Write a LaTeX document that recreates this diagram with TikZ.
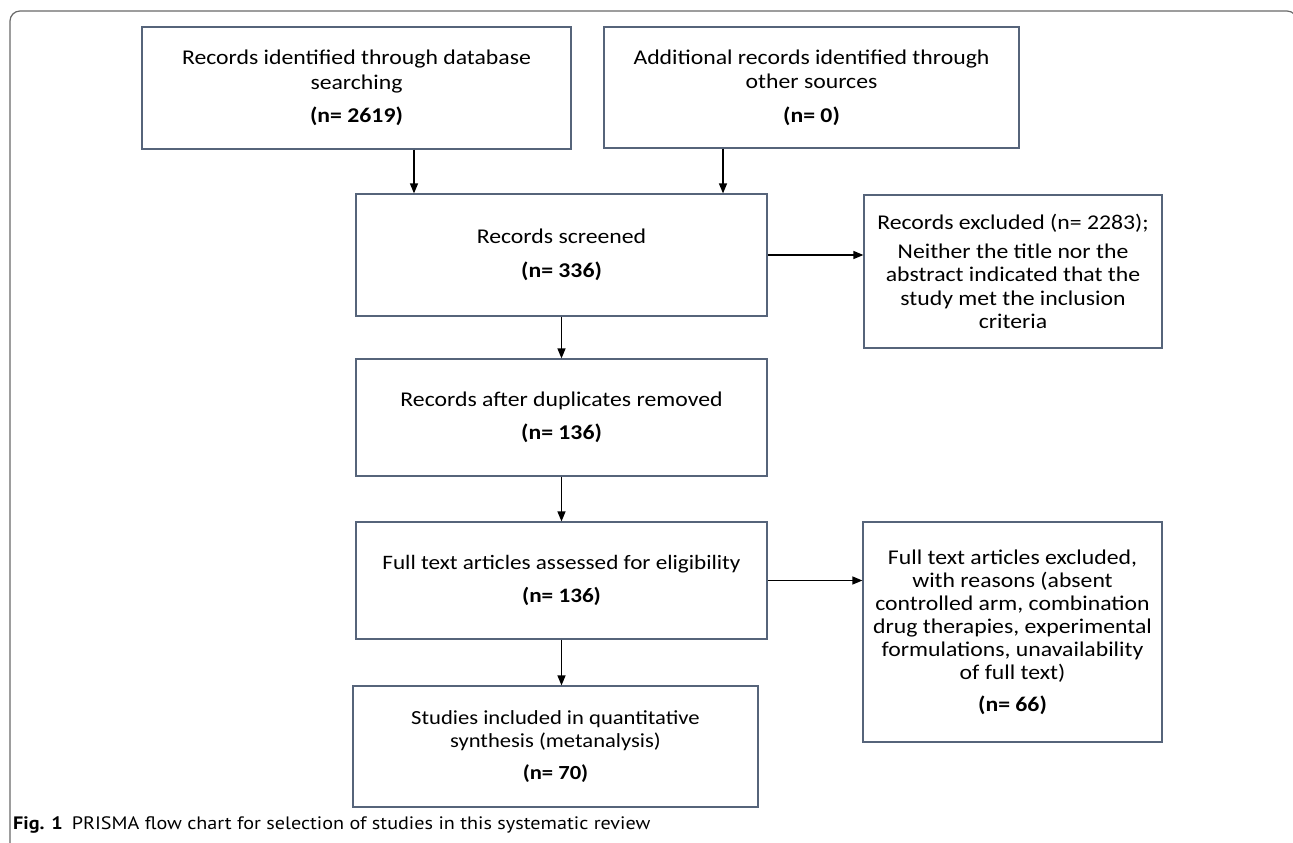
\documentclass[tikz,border=0pt]{standalone}
\usepackage{fontspec}
\setmainfont{Carlito}[FakeStretch=1.13]
\newfontfamily\capfont{PT Sans}[FakeStretch=1.12]
\usetikzlibrary{positioning}
\usetikzlibrary{arrows.meta}
\definecolor{boxline}{RGB}{86,100,122}
\definecolor{frameline}{RGB}{105,105,105}
\tikzset{
    mybox/.style = {rectangle, draw=boxline, line width=1.2pt, align=center, fill=white, font=\fontsize{21}{24.5}\selectfont, text=black, inner sep=4pt},
    myboxs/.style = {mybox, font=\fontsize{21}{23}\selectfont},
    edgea/.style = {-{Triangle[length=10pt,width=8pt]}, line width=1.3pt, black},
    framel/.style = {line width=1.2pt, frameline},
    captext/.style = {anchor=base west, inner sep=0pt, font=\capfont\fontsize{18}{20}\selectfont}
}

\begin{document}
\begin{tikzpicture}[x=1pt,y=-1pt]
  \useasboundingbox (0,0) rectangle (1293,843);
  \draw[framel, rounded corners=10pt] (10,850) |- (1297,11) -- (1297,850);

  % boxes
  \node[mybox, minimum width=429, minimum height=122] (rec) at (356.5,88)
    {Records identified through database\\searching\\[9pt]\textbf{(n= 2619)}};
  \node[mybox, minimum width=415, minimum height=121] (add) at (811.5,87.5)
    {Additional records identified through\\other sources\\[9pt]\textbf{(n= 0)}};
  \node[mybox, minimum width=411, minimum height=122] (scr) at (561.5,255)
    {Records screened\\[9pt]\textbf{(n= 336)}};
  \node[myboxs, minimum width=298, minimum height=153, font=\fontsize{21}{23.5}\selectfont] (exc1) at (1013,271.5)
    {Records excluded (n= 2283);\\[5pt]Neither the title nor the\\abstract indicated that the\\study met the inclusion\\criteria};
  \node[mybox, minimum width=411, minimum height=117] (dup) at (561.5,417.5)
    {Records after duplicates removed\\[9pt]\textbf{(n= 136)}};
  \node[mybox, minimum width=411, minimum height=117, font=\fontsize{20.5}{24}\selectfont] (full) at (561.5,580.5)
    {Full text articles assessed for eligibility\\[9pt]\textbf{(n= 136)}};
  \node[myboxs, minimum width=299, minimum height=220] (exc2) at (1012.5,632)
    {Full text articles excluded,\\with reasons (absent\\controlled arm, combination\\drug therapies, experimental\\formulations, unavailability\\of full text)\\[9pt]\textbf{(n= 66)}};
  \node[mybox, minimum width=405, minimum height=121, font=\fontsize{20}{23}\selectfont] (stu) at (555.5,746.5)
    {Studies included in quantitative\\synthesis (metanalysis)\\[9pt]\textbf{(n= 70)}};

  % arrows
  \coordinate (r1) at ([xshift=57.5pt]rec.south);
  \coordinate (a1) at ([xshift=-88.5pt]add.south);
  \draw[edgea] (r1) -- (r1 |- scr.north);
  \draw[edgea] (a1) -- (a1 |- scr.north);
  \draw[edgea] (scr.east) -- (scr.east -| exc1.west);
  \draw[edgea] (scr.south) -- (dup.north);
  \draw[edgea] (dup.south) -- (full.north);
  \draw[edgea] (full.east) -- (full.east -| exc2.west);
  \draw[edgea] (full.south) -- (full.south |- stu.north);

  \node[captext] (cap) at (13,829)
    {\textbf{Fig. 1}\enspace PRISMA flow chart for selection of studies in this systematic review};
\end{tikzpicture}
\end{document}
